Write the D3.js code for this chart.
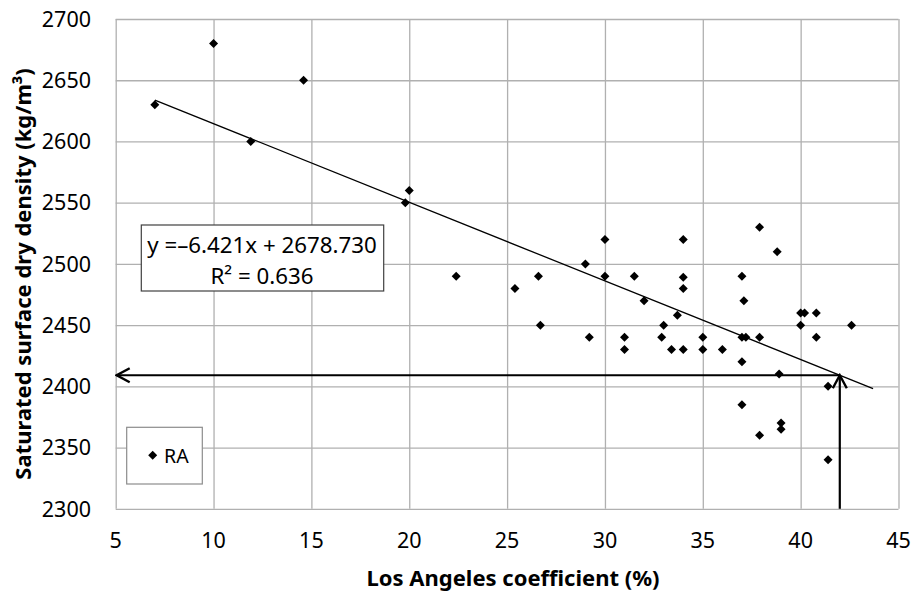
<!DOCTYPE html>
<html>
<head>
<meta charset="utf-8">
<script src="https://cdn.jsdelivr.net/npm/d3@7"></script>
<style>
  html, body { margin: 0; padding: 0; background: #fff; }
  svg { display: block; font-family: "Noto Sans", "Open Sans", sans-serif; }
</style>
</head>
<body>
<svg id="chart" width="913" height="592"></svg>
<script>
// Los Angeles coefficient (%) for each RA sample
const laCoef = [7, 10, 11.9, 14.6, 19.8, 20, 22.4, 25.4, 26.6, 26.7,
  29, 29.2, 30, 30, 31, 31, 31.5, 32, 32.9, 33, 33.4, 33.7,
  34, 34, 34, 34, 35, 35, 36, 37, 37.1, 37, 37.2, 37.9, 37, 37,
  37.9, 38.8, 37.9, 39, 39, 38.9, 40, 40.2, 40, 40.8, 40.8, 42.6, 41.4, 41.4];
// Saturated surface dry density (kg/m³) for each RA sample
const ssdDensity = [2630, 2680, 2600, 2650, 2550, 2560, 2490, 2480, 2490, 2450,
  2500, 2440, 2520, 2490, 2440, 2430, 2490, 2470, 2440, 2450, 2430, 2458,
  2520, 2489, 2480, 2430, 2440, 2430, 2430, 2490, 2470, 2440, 2440, 2440, 2420, 2385,
  2530, 2510, 2360, 2370, 2365, 2410, 2460, 2460, 2450, 2460, 2440, 2450, 2400, 2340];

const xTicks = [5, 10, 15, 20, 25, 30, 35, 40, 45];
const yTicks = [2300, 2350, 2400, 2450, 2500, 2550, 2600, 2650, 2700];

// Linear regression shown in the chart
const slope = -6.421;
const intercept = 2678.730;
const rSquared = 0.636;
const trendRange = [7, 43.7];
const readX = 42; // value

const seriesName = "RA";
const xTitle = "Los Angeles coefficient (%)";
const yTitle = "Saturated surface dry density (kg/m³)";

const svg = d3.select("#chart");
const x = d3.scaleLinear().domain([5, 45]).range([115.7, 898.5]);
const y = d3.scaleLinear().domain([2300, 2700]).range([508.8, 19]);
const gridColor = "#b0b0b0";

// Grid (vertical and horizontal) via axes with full-length ticks
const gx = svg.append("g")
  .attr("transform", `translate(0,${y(2300)})`)
  .call(d3.axisBottom(x).tickValues(xTicks).tickSize(-(y(2300) - y(2700))).tickFormat(""));
const gy = svg.append("g")
  .attr("transform", `translate(${x(5)},0)`)
  .call(d3.axisLeft(y).tickValues(yTicks).tickSize(-(x(45) - x(5))).tickFormat(""));
[gx, gy].forEach(g => {
  g.select(".domain").remove();
  g.selectAll(".tick line").attr("stroke", gridColor).attr("stroke-width", 1.3);
});

// Tick labels
svg.append("g").selectAll("text").data(xTicks).join("text")
  .attr("x", d => x(d)).attr("y", 548)
  .attr("text-anchor", "middle")
  .attr("font-size", 21.5).attr("fill", "#000")
  .text(d => d);
svg.append("g").selectAll("text").data(yTicks).join("text")
  .attr("x", 91).attr("y", d => y(d) + 7.7)
  .attr("text-anchor", "end")
  .attr("font-size", 21.5).attr("fill", "#000")
  .text(d => d);

// Axis titles
svg.append("text")
  .attr("x", 513).attr("y", 586)
  .attr("text-anchor", "middle")
  .attr("font-size", 22).attr("font-weight", "bold")
  .text(xTitle);
svg.append("text")
  .attr("transform", "translate(31,274) rotate(-90)")
  .attr("text-anchor", "middle")
  .attr("font-size", 22).attr("font-weight", "bold")
  .text(yTitle);

// Trend line
const trend = v => slope * v + intercept;
svg.append("line")
  .attr("x1", x(trendRange[0])).attr("y1", y(trend(trendRange[0])))
  .attr("x2", x(trendRange[1])).attr("y2", y(trend(trendRange[1])))
  .attr("stroke", "#000").attr("stroke-width", 1.3);

// Data points (diamonds)
const diamond = "M0,-4.5L4.5,0L0,4.5L-4.5,0Z";
svg.append("g").selectAll("path").data(laCoef.map((v, i) => [v, ssdDensity[i]])).join("path")
  .attr("d", diamond)
  .attr("transform", d => `translate(${x(d[0])},${y(d[1])})`)
  .attr("fill", "#000");

// Read-off arrows
const defs = svg.append("defs");
defs.append("marker")
  .attr("id", "openArrow")
  .attr("markerUnits", "userSpaceOnUse")
  .attr("viewBox", "-15 -9 17 18")
  .attr("markerWidth", 17).attr("markerHeight", 18)
  .attr("refX", 0).attr("refY", 0)
  .attr("orient", "auto")
  .append("path")
  .attr("d", "M-13,-7L0,0L-13,7")
  .attr("fill", "none").attr("stroke", "#000").attr("stroke-width", 2.4);

const readY = trend(readX);
svg.append("line")
  .attr("x1", x(readX)).attr("y1", y(readY))
  .attr("x2", x(5) + 1).attr("y2", y(readY))
  .attr("stroke", "#000").attr("stroke-width", 2.2)
  .attr("marker-end", "url(#openArrow)");
svg.append("line")
  .attr("x1", x(readX)).attr("y1", y(2300))
  .attr("x2", x(readX)).attr("y2", y(readY))
  .attr("stroke", "#000").attr("stroke-width", 2.2)
  .attr("marker-end", "url(#openArrow)");

// Equation box
const eq = svg.append("g");
eq.append("rect")
  .attr("x", 141.3).attr("y", 225).attr("width", 242.4).attr("height", 66)
  .attr("fill", "#fff").attr("stroke", "#404040").attr("stroke-width", 1.2);
eq.append("text")
  .attr("x", 262).attr("y", 253).attr("text-anchor", "middle")
  .attr("font-size", 22.3)
  .text(`y =–${Math.abs(slope).toFixed(3)}x + ${intercept.toFixed(3)}`);
eq.append("text")
  .attr("x", 262).attr("y", 283.5).attr("text-anchor", "middle")
  .attr("font-size", 22.3)
  .text(`R² = ${rSquared.toFixed(3)}`);

// Legend
const lg = svg.append("g");
lg.append("rect")
  .attr("x", 126.7).attr("y", 427.3).attr("width", 75.6).attr("height", 56.7)
  .attr("fill", "#fff").attr("stroke", "#8c8c8c").attr("stroke-width", 1.2);
lg.append("path").attr("d", diamond)
  .attr("transform", "translate(152.7,455.3)").attr("fill", "#000");
lg.append("text")
  .attr("x", 164).attr("y", 462.5)
  .attr("font-size", 19.5)
  .text(seriesName);
</script>
</body>
</html>
